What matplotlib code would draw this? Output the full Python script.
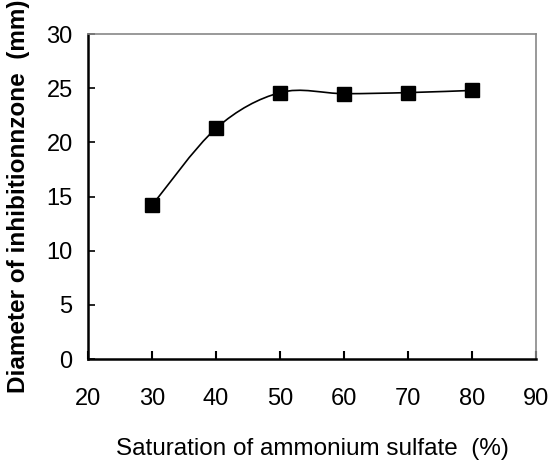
import matplotlib
matplotlib.use('Agg')
import matplotlib.pyplot as plt
from matplotlib.path import Path
from matplotlib.patches import PathPatch
import numpy as np

saturation = [30, 40, 50, 60, 70, 80]
diameter = [14.2, 21.3, 24.6, 24.5, 24.6, 24.8]


def smooth_path(xs, ys, k=1 / 6.0):
    # Catmull-Rom style bezier through the points (like a spreadsheet "smoothed line")
    xs = np.asarray(xs, float)
    ys = np.asarray(ys, float)
    verts = [(xs[0], ys[0])]
    codes = [Path.MOVETO]
    n = len(xs)
    for i in range(n - 1):
        p0 = (xs[max(i - 1, 0)], ys[max(i - 1, 0)])
        p1 = (xs[i], ys[i])
        p2 = (xs[i + 1], ys[i + 1])
        p3 = (xs[min(i + 2, n - 1)], ys[min(i + 2, n - 1)])
        c1 = (p1[0] + (p2[0] - p0[0]) * k, p1[1] + (p2[1] - p0[1]) * k)
        c2 = (p2[0] - (p3[0] - p1[0]) * k, p2[1] - (p3[1] - p1[1]) * k)
        verts += [c1, c2, p2]
        codes += [Path.CURVE4] * 3
    return Path(verts, codes)


plt.rcParams['font.family'] = ['Liberation Sans', 'DejaVu Sans']

fig = plt.figure(figsize=(5.5, 4.67), dpi=100)
ax = fig.add_axes([0.16, 0.231, 0.815, 0.696])

ax.add_patch(PathPatch(smooth_path(saturation, diameter), facecolor='none',
                       edgecolor='black', lw=1.2, zorder=2))
ax.plot(saturation, diameter, 's', color='black', markersize=10, zorder=3)

ax.set_xlim(20, 90)
ax.set_ylim(0, 30)
ax.set_xticks(range(20, 91, 10))
ax.set_yticks(range(0, 31, 5))

for side in ['left', 'bottom']:
    ax.spines[side].set_linewidth(1.8)
    ax.spines[side].set_color('black')
for side in ['top', 'right']:
    ax.spines[side].set_linewidth(1.2)
    ax.spines[side].set_color('#888888')

ax.tick_params(axis='x', direction='in', length=6, width=1.5, labelsize=17, pad=21)
ax.tick_params(axis='y', direction='in', length=5, width=1.2, labelsize=17, pad=11)

ax.set_xlabel('Saturation of ammonium sulfate  (%)', fontsize=17.5, labelpad=20)
ax.set_ylabel('Diameter of inhibitionnzone  (mm)', fontsize=17.5, fontweight='bold', labelpad=12)

fig.savefig('out.png', dpi=100)
